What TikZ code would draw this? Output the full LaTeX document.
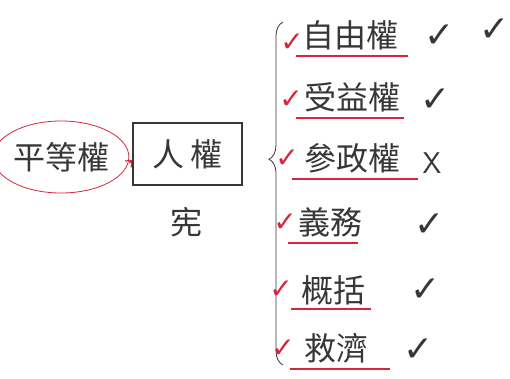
\documentclass[tikz,border=0pt]{standalone}
\usepackage{fontspec}
\newfontfamily\cjk{Noto Sans CJK TC}
\newfontfamily\checkfont{DejaVu Sans}
\usepackage{tikz}
\usetikzlibrary{arrows.meta}
\usetikzlibrary{shapes.geometric}
\usetikzlibrary{decorations.pathreplacing}
\definecolor{pen}{RGB}{55,55,55}
\definecolor{handred}{RGB}{214,38,62}

\begin{document}
\begin{tikzpicture}[
    x=1pt, y=-1pt,
    every node/.style={color=pen, font=\cjk\fontsize{32}{32}\selectfont, inner sep=0pt},
    eq node/.style={ellipse, draw=handred, thick, minimum width=108pt, minimum height=72pt},
    right box/.style={draw=pen, line width=1.4pt, minimum width=109pt, minimum height=62pt},
    red arrow/.style={-{Straight Barb[length=5pt,width=9pt]}, handred, line width=1.2pt},
    red line/.style={handred, line width=1.2pt},
    tick/.style={font=\checkfont\fontsize{36}{36}\selectfont},
    red tick/.style={tick, color=handred, font=\checkfont\fontsize{28}{28}\selectfont}
    ]
    \useasboundingbox (0,0) rectangle (510,378);

    % left part
    \node[eq node] (eq) at (61,157) {平等權};
    \node[right box] (hr) at (187.5,154) {人\,權};
    \node (xian) at (186,222) {宪};
    \draw[red arrow] ([yshift=-6pt]eq.east) -- ([yshift=-6pt]hr.west);

    % brace
    \coordinate (btop) at (283,22);
    \coordinate (bbot) at (283,365);
    \draw[pen, thick, decorate, decoration={brace, amplitude=14pt, aspect=0.4, mirror}] (btop) -- (bbot);

    % items
    \node (i1) at (350,35) {自由權};
    \node (i2) at (352,97) {受益權};
    \node (i3) at (352,158) {\char"53C3 政權};
    \node (i4) at (330,222) {義務};
    \node (i5) at (333,290) {概括};
    \node (i6) at (336,348) {救濟};

    % underlines
    \draw[red line] ([xshift=-6pt,yshift=-6pt]i1.south west) -- ([xshift=10pt,yshift=-6pt]i1.south east);
    \draw[red line] ([xshift=-8pt,yshift=-6pt]i2.south west) -- ([xshift=4pt,yshift=-6pt]i2.south east);
    \draw[red line] ([xshift=-12pt,yshift=-6pt]i3.south west) -- ([xshift=18pt,yshift=-6pt]i3.south east);
    \draw[red line] ([xshift=-10pt,yshift=-6pt]i4.south west) -- ([xshift=-4pt,yshift=-6pt]i4.south east);
    \draw[red line] ([xshift=-10pt,yshift=-4pt]i5.south west) -- ([xshift=6pt,yshift=-4pt]i5.south east);
    \draw[red line] ([xshift=-14pt,yshift=-6pt]i6.south west) -- ([xshift=22pt,yshift=-6pt]i6.south east);

    % red ticks
    \node[red tick] (r1) at (292,43) {✓};
    \node[red tick] (r2) at (291,100) {✓};
    \node[red tick] (r3) at (287,159) {✓};
    \node[red tick] (r4) at (285,223) {✓};
    \node[red tick] (r5) at (281,290) {✓};
    \node[red tick] (r6) at (283,349) {✓};

    % marks
    \node[tick] (c1) at (440,36) {✓};
    \node[tick] (c1b) at (495,30) {✓};
    \node[tick] (c2) at (436,100) {✓};
    \node[tick, font=\sffamily\fontsize{30}{30}\selectfont] (c3) at (432,163) {X};
    \node[tick] (c4) at (430,225) {✓};
    \node[tick] (c5) at (426,290) {✓};
    \node[tick] (c6) at (419,350) {✓};
\end{tikzpicture}
\end{document}
